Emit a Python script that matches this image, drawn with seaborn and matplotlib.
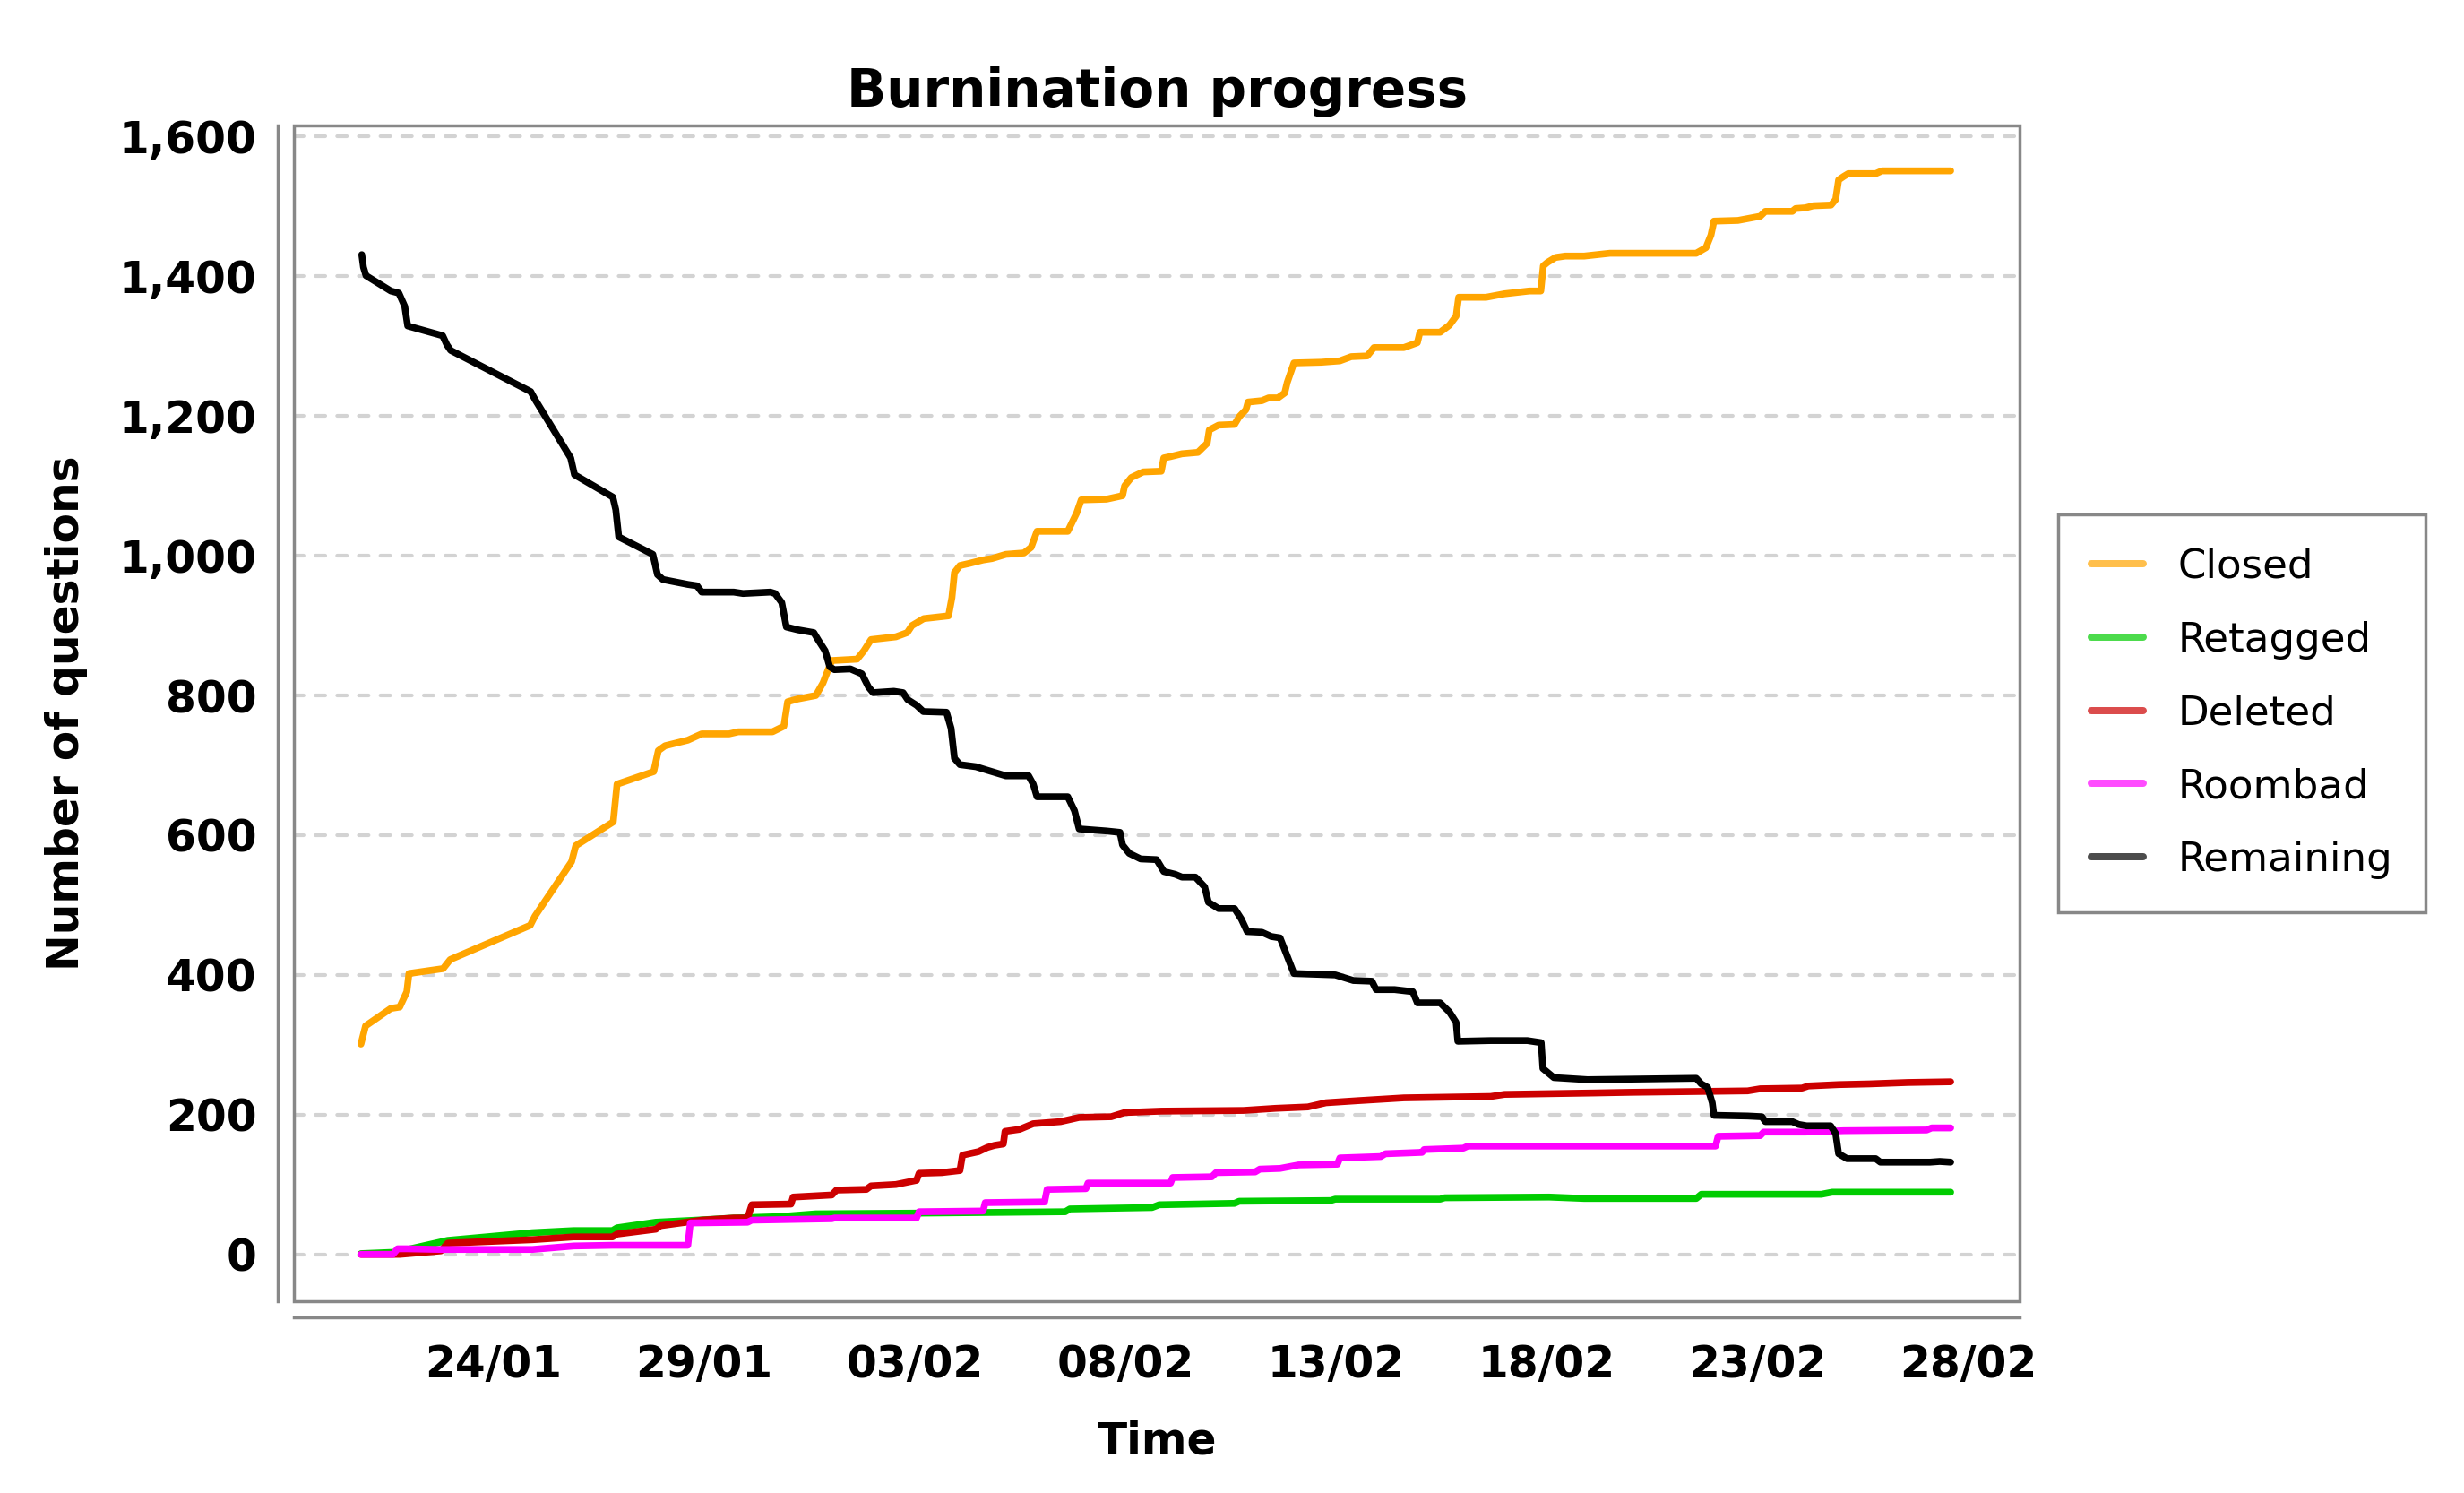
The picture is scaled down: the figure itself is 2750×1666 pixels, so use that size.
import numpy as np
import pandas as pd
import matplotlib
matplotlib.use("Agg")
import matplotlib.pyplot as plt
import matplotlib.dates as mdates
from matplotlib.lines import Line2D
from matplotlib.patches import Rectangle
from matplotlib.ticker import FuncFormatter
import seaborn as sns

sns.set_style("white")
plt.rcParams['font.family'] = ['DejaVu Sans']
plt.rcParams['font.weight'] = 'bold'
plt.rcParams['text.color'] = 'black'
plt.rcParams['axes.labelcolor'] = 'black'

# day offsets from 24/01, count of questions
START = pd.Timestamp("2019-01-24")

closed = [(-3.15, 301), (-3.04, 327), (-2.44, 352), (-2.23, 354), (-2.06, 376), (-2.01, 402),
          (-1.20, 409), (-1.03, 422), (0.87, 471), (0.98, 484), (1.85, 562), (1.95, 585),
          (2.84, 619), (2.93, 673), (3.80, 691), (3.91, 721), (4.07, 728), (4.61, 736),
          (4.94, 745), (5.59, 745), (5.81, 748), (6.62, 748), (6.89, 756), (6.98, 791),
          (7.22, 795), (7.65, 800), (7.82, 818), (7.93, 835), (8.03, 850), (8.63, 852),
          (8.79, 864), (8.96, 880), (9.55, 884), (9.82, 890), (9.93, 900), (10.21, 910),
          (10.80, 914), (10.88, 940), (10.94, 976), (11.07, 986), (11.29, 989), (11.62, 994),
          (11.83, 996), (12.16, 1002), (12.59, 1004), (12.76, 1012), (12.90, 1035), (13.63, 1035),
          (13.84, 1061), (13.95, 1080), (14.55, 1081), (14.93, 1086), (14.98, 1100), (15.14, 1112),
          (15.42, 1120), (15.85, 1121), (15.91, 1140), (16.07, 1142), (16.34, 1146), (16.72, 1148),
          (16.94, 1161), (16.99, 1180), (17.21, 1187), (17.59, 1188), (17.70, 1199), (17.86, 1209),
          (17.91, 1220), (18.24, 1222), (18.40, 1226), (18.62, 1226), (18.78, 1233), (18.84, 1248),
          (19.00, 1276), (19.65, 1277), (20.09, 1279), (20.36, 1285), (20.74, 1286), (20.90, 1298),
          (21.61, 1298), (21.93, 1305), (21.99, 1320), (22.47, 1320), (22.69, 1330), (22.85, 1343),
          (22.91, 1370), (23.56, 1370), (24.00, 1375), (24.59, 1379), (24.86, 1379), (24.92, 1415),
          (25.02, 1420), (25.21, 1427), (25.44, 1429), (25.89, 1429), (26.50, 1433), (28.55, 1433),
          (28.78, 1441), (28.90, 1459), (28.97, 1479), (29.54, 1480), (30.07, 1486), (30.19, 1493),
          (30.83, 1493), (30.91, 1497), (31.14, 1498), (31.33, 1501), (31.75, 1502), (31.86, 1510),
          (31.93, 1538), (32.05, 1543), (32.16, 1547), (32.81, 1547), (32.96, 1551), (34.59, 1551)]

retagged = [(-3.15, 1), (-2.34, 3), (-1.09, 20), (0.92, 31), (1.90, 34), (2.82, 34),
            (2.93, 38), (3.85, 46), (4.83, 49), (5.70, 52), (6.79, 54), (7.65, 58),
            (9.99, 59), (13.57, 61), (13.68, 65), (15.63, 67), (15.80, 71), (17.59, 73),
            (17.70, 76), (19.87, 77), (19.98, 79), (22.47, 79), (22.58, 81), (25.06, 82),
            (25.89, 80), (28.55, 80), (28.67, 86), (31.52, 86), (31.78, 89), (34.59, 89)]

deleted = [(-3.15, 0), (-2.23, 0), (-1.25, 5), (-1.09, 16), (0.92, 21), (1.90, 25),
           (2.82, 25), (2.93, 29), (3.85, 36), (3.96, 41), (4.94, 49), (5.70, 52),
           (6.03, 52), (6.13, 71), (7.06, 72), (7.11, 82), (8.03, 85), (8.14, 92),
           (8.85, 93), (8.96, 98), (9.55, 100), (10.04, 106), (10.10, 116), (10.64, 117),
           (11.07, 120), (11.13, 142), (11.51, 147), (11.72, 153), (11.89, 156), (12.10, 158),
           (12.14, 176), (12.49, 179), (12.81, 187), (13.46, 190), (13.90, 196), (14.66, 197),
           (14.98, 203), (15.85, 205), (17.80, 206), (18.56, 209), (19.33, 211), (19.76, 217),
           (20.52, 220), (21.61, 224), (23.67, 226), (24.00, 229), (26.12, 231), (27.03, 232),
           (29.77, 234), (30.07, 237), (31.06, 238), (31.21, 241), (31.93, 243), (32.66, 244),
           (33.57, 246), (34.59, 247)]

roombad = [(-3.15, 0), (-2.39, 0), (-2.28, 8), (-2.06, 8), (-1.25, 7), (0.92, 7),
           (1.90, 12), (2.82, 13), (4.61, 13), (4.67, 45), (6.03, 46), (6.13, 49),
           (8.03, 51), (8.09, 52), (10.04, 52), (10.10, 61), (11.62, 62), (11.67, 74),
           (13.08, 75), (13.14, 93), (14.06, 94), (14.11, 102), (16.07, 102), (16.12, 110),
           (17.05, 111), (17.15, 117), (18.08, 118), (18.19, 122), (18.67, 123), (19.11, 128),
           (20.03, 129), (20.09, 138), (21.06, 140), (21.17, 144), (22.04, 146), (22.09, 150),
           (23.02, 152), (23.13, 155), (29.01, 155), (29.07, 169), (30.07, 170), (30.15, 175),
           (31.14, 175), (32.05, 177), (34.02, 178), (34.14, 181), (34.59, 181)]

remaining = [(-3.13, 1431), (-3.09, 1413), (-3.03, 1401), (-2.44, 1379), (-2.25, 1376), (-2.11, 1357),
             (-2.04, 1329), (-1.21, 1315), (-1.11, 1302), (-1.02, 1294), (0.88, 1235), (0.98, 1224),
             (1.83, 1140), (1.92, 1116), (2.83, 1084), (2.90, 1066), (2.97, 1027), (3.78, 1002),
             (3.89, 973), (4.02, 966), (4.61, 959), (4.83, 957), (4.94, 948), (5.70, 948),
             (5.92, 946), (6.57, 948), (6.68, 946), (6.84, 933), (6.95, 898), (7.22, 894),
             (7.60, 890), (7.71, 879), (7.87, 864), (7.98, 841), (8.09, 837), (8.47, 838),
             (8.74, 831), (8.90, 812), (9.01, 804), (9.50, 806), (9.72, 804), (9.83, 794),
             (10.04, 786), (10.20, 777), (10.75, 776), (10.86, 753), (10.94, 710), (11.07, 701),
             (11.45, 698), (11.72, 693), (12.16, 685), (12.70, 685), (12.81, 673), (12.90, 655),
             (13.63, 655), (13.79, 635), (13.90, 609), (14.55, 606), (14.87, 604), (14.93, 586),
             (15.09, 574), (15.36, 566), (15.74, 565), (15.91, 548), (16.18, 544), (16.34, 540),
             (16.66, 540), (16.88, 526), (16.97, 504), (17.21, 495), (17.59, 495), (17.75, 480),
             (17.89, 462), (18.24, 461), (18.46, 455), (18.67, 453), (18.80, 433), (19.00, 402),
             (19.98, 400), (20.41, 392), (20.85, 391), (20.95, 379), (21.39, 379), (21.82, 376),
             (21.93, 360), (22.47, 360), (22.69, 347), (22.85, 332), (22.89, 305), (23.67, 306),
             (24.54, 306), (24.87, 303), (24.91, 266), (25.17, 253), (25.44, 252), (25.97, 250),
             (28.55, 252), (28.67, 244), (28.82, 239), (28.93, 217), (28.97, 199), (29.77, 198),
             (30.11, 197), (30.19, 190), (30.83, 190), (30.98, 186), (31.17, 184), (31.74, 184),
             (31.86, 173), (31.93, 144), (32.13, 137), (32.81, 137), (32.92, 132), (34.10, 132),
             (34.33, 133), (34.59, 132)]

series_names = ["Closed", "Retagged", "Deleted", "Roombad", "Remaining"]
series_data = [closed, retagged, deleted, roombad, remaining]
series_colors = ["#FFA500", "#00CC00", "#CC0000", "#FF00FF", "#000000"]

frames = []
for name, pts in zip(series_names, series_data):
    d = pd.DataFrame(pts, columns=["day", "count"])
    d["series"] = name
    frames.append(d)
df = pd.concat(frames, ignore_index=True)
df["time"] = START + pd.to_timedelta(df["day"], unit="D")

GRAY = "#888888"

fig = plt.figure(figsize=(11, 6.664), dpi=250)
ax = fig.add_axes([0.1193, 0.1285, 0.7004, 0.7875])

sns.lineplot(data=df, x="time", y="count", hue="series", hue_order=series_names,
             palette=series_colors, estimator=None, lw=2.2, legend=False, ax=ax,
             solid_capstyle="round", solid_joinstyle="round")

ax.set_xlim(START + pd.Timedelta(days=-4.74), START + pd.Timedelta(days=36.23))
ax.set_ylim(-67, 1616)
ax.set_yticks(np.arange(0, 1601, 200))
ax.yaxis.set_major_formatter(FuncFormatter(lambda v, p: f"{v:,.0f}"))
ax.set_xticks(pd.date_range(START, periods=8, freq="5D"))
ax.xaxis.set_major_formatter(mdates.DateFormatter("%d/%m"))

ax.yaxis.grid(True, color="#d3d3d3", linestyle=(0, (2.6, 3.2)), lw=1.2,
              dash_capstyle="round")
ax.xaxis.grid(False)
ax.set_axisbelow(True)

# box around the plot + offset axis lines
for s in ["top", "right"]:
    ax.spines[s].set_visible(False)
for s in ["left", "bottom"]:
    ax.spines[s].set_position(("outward", 5.2))
    ax.spines[s].set_color(GRAY)
    ax.spines[s].set_linewidth(1.0)
ax.add_patch(Rectangle((0, 0), 1, 1, transform=ax.transAxes, fill=False,
                       ec=GRAY, lw=1.0, clip_on=False, zorder=3))

ax.tick_params(axis="both", color=GRAY, labelcolor="black", length=3.8,
               width=1.0, labelsize=14)
ax.tick_params(axis="x", pad=4.5)
ax.tick_params(axis="y", pad=3)

ax.set_title("Burnination progress", fontsize=16.7, fontweight="bold", pad=6, color="black")
ax.set_xlabel("Time", fontsize=14, fontweight="bold", labelpad=11)
ax.set_ylabel("Number of questions", fontsize=14, fontweight="bold", labelpad=10)

handles = [Line2D([], [], color=c, lw=2.3, alpha=0.7, solid_capstyle="round")
           for c in series_colors]
leg = ax.legend(handles, series_names, loc="center left", bbox_to_anchor=(1.022, 0.5),
                borderaxespad=0, fancybox=False, edgecolor=GRAY, framealpha=1,
                handlelength=1.3, handletextpad=0.85, labelspacing=0.86, borderpad=0.82,
                prop={"size": 13, "weight": "normal"})
leg.get_frame().set_linewidth(1.0)
for t in leg.get_texts():
    t.set_color("black")

fig.savefig("out.png", dpi=250)
